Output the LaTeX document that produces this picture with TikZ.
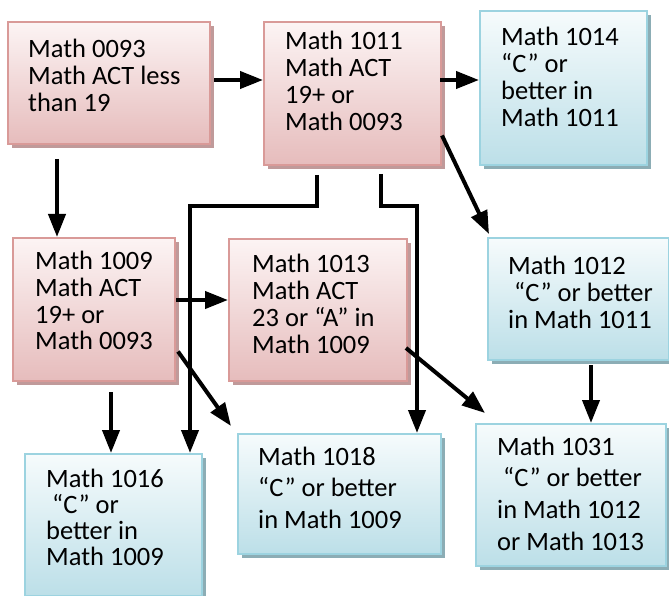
\documentclass[tikz,border=0pt]{standalone}
\usepackage{fontspec}
\setmainfont{Carlito}
\usetikzlibrary{arrows.meta,calc,shadows}
\definecolor{pinktop}{HTML}{FCF4F4}
\definecolor{pinkbot}{HTML}{E6BCBC}
\definecolor{pinkline}{HTML}{D99A98}
\definecolor{pinkshadow}{HTML}{C09A9A}
\definecolor{bluetop}{HTML}{F6FBFC}
\definecolor{bluebot}{HTML}{BCDFE8}
\definecolor{blueline}{HTML}{9CD3E0}
\definecolor{blueshadow}{HTML}{8CADB5}
\newcommand\boxlines[2]{\vtop{\baselineskip=#1\relax\lineskiplimit=-100pt #2}}
\begin{document}
\begin{tikzpicture}[x=1pt,y=-1pt,
  box/.style={draw, line width=2pt, inner sep=0pt, anchor=north west},
  sz/.style 2 args={minimum width=#1pt, minimum height=#2pt},
  pinkbox/.style={box, draw=pinkline, top color=pinktop, bottom color=pinkbot,
    drop shadow={shadow xshift=4pt,shadow yshift=-4pt,fill=pinkshadow,opacity=1}},
  bluebox/.style={box, draw=blueline, top color=bluetop, bottom color=bluebot,
    drop shadow={shadow xshift=4pt,shadow yshift=-4pt,fill=blueshadow,opacity=1}},
  txt/.style={anchor=base west, inner sep=0pt, font=\fontsize{26.5}{27}\selectfont},
  arr/.style={line width=4pt, -{Triangle[length=23pt,width=17pt]}}]
\useasboundingbox (0,0) rectangle (669,596);

% boxes
\node[pinkbox, sz={202}{122}] (a) at (7,21) {};
\node[pinkbox, sz={177}{143}] (b) at (263,21) {};
\node[bluebox, sz={167}{154}] (c) at (479,10) {};
\node[pinkbox, sz={162}{143}] (d) at (12,237) {};
\node[pinkbox, sz={178}{142}] (e) at (228,238) {};
\node[bluebox, sz={181}{122}] (f) at (487,237) {};
\node[bluebox, sz={177}{142}] (g) at (24,453) {};
\node[bluebox, sz={203}{120}] (h) at (237,433) {};
\node[bluebox, sz={190}{142}] (i) at (475,423) {};

% texts
\node[txt] (ta) at (28,58) {\boxlines{27pt}{\hbox{Math 0093}\hbox{Math ACT less}\hbox{than 19}}};
\node[txt] (tb) at (285,50) {\boxlines{27pt}{\hbox{Math 1011}\hbox{Math ACT}\hbox{19+ or}\hbox{Math 0093}}};
\node[txt] (tc) at (501,46) {\boxlines{27pt}{\hbox{Math 1014}\hbox{“C” or}\hbox{better in}\hbox{Math 1011}}};
\node[txt] (td) at (35,269) {\boxlines{27pt}{\hbox{Math 1009}\hbox{Math ACT}\hbox{19+ or}\hbox{Math 0093}}};
\node[txt] (te) at (252,272) {\boxlines{27pt}{\hbox{Math 1013}\hbox{Math ACT}\hbox{23 or “A” in}\hbox{Math 1009}}};
\node[txt] (tf) at (508,274) {\boxlines{27pt}{\hbox{Math 1012}\hbox{\ “C” or better}\hbox{in Math 1011}}};
\node[txt] (tg) at (46,487) {\boxlines{26pt}{\hbox{Math 1016}\hbox{\ “C” or}\hbox{better in}\hbox{Math 1009}}};
\node[txt] (th) at (258,465) {\boxlines{31.5pt}{\hbox{Math 1018}\hbox{“C” or better}\hbox{in Math 1009}}};
\node[txt] (ti) at (497,455) {\boxlines{31.7pt}{\hbox{Math 1031}\hbox{\ “C” or better}\hbox{in Math 1012}\hbox{or Math 1013}}};

% connectors
\draw[arr] ($(a.east|-0,80)+(3,0)$) -- (b.west|-0,80);
\draw[arr] ($(b.east|-0,80)+(-2,0)$) -- (c.west|-0,80);
\draw[arr] ($(a.south-|57,0)+(0,14)$) -- (d.north-|57,0);
\draw[arr] ($(b.east)+(0,42)$) -- ($(f.north west)+(2,-3)$);
\draw[arr] ($(b.south-|317,0)+(0,9)$) -- ++(0,31) -| (g.north-|190,0);
\draw[arr] ($(b.south-|381,0)+(0,8)$) -- ++(0,32) -| (h.north-|417,0);
\draw[arr] (d.east|-0,300) -- (e.west|-0,300);
\draw[arr] ($(d.east)+(2,42)$) -- ($(h.north west)+(-6,-7)$);
\draw[arr] ($(e.east)+(-2,38)$) -- ($(i.north west)+(10,-10)$);
\draw[arr] ($(f.south-|591,0)+(0,4)$) -- (i.north-|591,0);
\draw[arr] ($(d.south-|111,0)+(0,10)$) -- (g.north-|111,0);
\end{tikzpicture}
\end{document}
